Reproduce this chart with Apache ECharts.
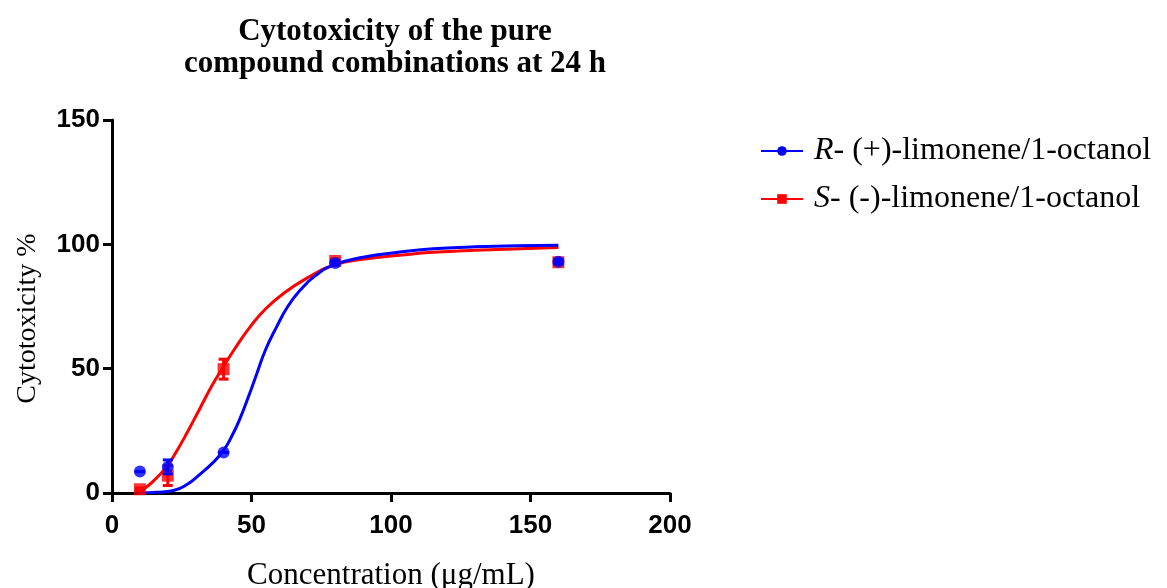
<!DOCTYPE html>
<html>
<head>
<meta charset="utf-8">
<script src="https://cdn.jsdelivr.net/npm/echarts@6/dist/echarts.min.js"></script>
<style>
  html, body { margin: 0; padding: 0; background: #fff; }
  #main { width: 1167px; height: 588px; }
</style>
</head>
<body>
<div id="main"></div>
<script>
// measured concentrations (ug/mL)
var conc = [10, 20, 40, 80, 160];

// R-(+)-limonene/1-octanol : mean and SD
var rMean = [8.6, 10.5, 16.3, 92.5, 93];
var rErr = [0, 2.8, 0, 0.8, 0.8];

// S-(-)-limonene/1-octanol : mean and SD
var sMean = [1.5, 7, 49.8, 93.3, 92.8];
var sErr = [0.5, 4, 4, 0.8, 0.8];

// fitted curves
var rCurveX = [10, 16, 22, 27, 31.5, 36, 39.9, 43, 45.9, 49, 51.9, 55, 59, 63, 67.4, 73, 79.3, 90, 103.2, 115, 130, 160];
var rCurveY = [0, 0.3, 1, 3.5, 7.5, 12, 17, 23, 30, 39, 48, 57.5, 66.8, 75, 81.5, 87.5, 91.6, 94.8, 96.9, 98.2, 99, 99.6];
var sCurveX = [10, 11.2, 15, 19.6, 23, 26.8, 31.5, 36, 39.9, 44, 49.5, 55, 61.4, 70, 79.3, 90, 103.2, 115, 130, 160];
var sCurveY = [0.8, 1.4, 5, 10.6, 16.5, 24, 34, 43.5, 50.7, 58, 66.8, 74, 80.2, 86.5, 91.6, 94, 95.6, 96.8, 97.6, 98.7];

var xTicks = [0, 50, 100, 150, 200];
var yTicks = [0, 50, 100, 150];

var nameR = 'R';
var nameS = 'S';

function zip(a, b) {
    return a.map(function (v, i) { return [v, b[i]]; });
}
function errData(m, e) {
    return conc.map(function (x, i) { return [x, m[i] - e[i], m[i] + e[i]]; });
}
function errRender(color) {
    return function (params, api) {
        var lo = api.coord([api.value(0), api.value(1)]);
        var hi = api.coord([api.value(0), api.value(2)]);
        var w = 5;
        var st = { stroke: color, lineWidth: 3 };
        return {
            type: 'group',
            children: [
                { type: 'line', shape: { x1: lo[0], y1: lo[1], x2: hi[0], y2: hi[1] }, style: st },
                { type: 'line', shape: { x1: lo[0] - w, y1: lo[1], x2: lo[0] + w, y2: lo[1] }, style: st },
                { type: 'line', shape: { x1: hi[0] - w, y1: hi[1], x2: hi[0] + w, y2: hi[1] }, style: st }
            ]
        };
    };
}

var blue = '#0000ff';
var red = '#ff0000';
var serif = '"Liberation Serif", "Times New Roman", serif';
var sans = '"Liberation Sans", Arial, sans-serif';

var myChart = echarts.init(document.getElementById('main'));
var option = {
    backgroundColor: '#fff',
    animation: false,
    title: {
        text: 'Cytotoxicity of the pure\ncompound combinations at 24 h',
        left: 390,
        top: 11,
        textAlign: 'center',
        textStyle: {
            fontFamily: serif,
            fontWeight: 'bold',
            fontSize: 31,
            lineHeight: 32,
            color: '#000'
        }
    },
    legend: {
        orient: 'vertical',
        left: 755,
        top: 130,
        itemWidth: 42,
        itemHeight: 12,
        itemGap: 16,
        data: [nameR, nameS],
        formatter: function (n) {
            return n === nameR ? '{i|R}- (+)-limonene/1-octanol' : '{i|S}- (-)-limonene/1-octanol';
        },
        textStyle: {
            fontFamily: serif,
            fontSize: 32,
            color: '#000',
            padding: [0, 0, 0, 6],
            rich: {
                i: { fontFamily: serif, fontSize: 32, fontStyle: 'italic', color: '#000' }
            }
        }
    },
    grid: {
        left: 112,
        top: 120,
        width: 558,
        bottom: 95,
        outerBoundsMode: 'none'
    },
    xAxis: {
        type: 'value',
        min: 0,
        max: 200,
        interval: 50,
        name: 'Concentration (\u03bcg/mL)',
        nameLocation: 'middle',
        nameGap: 67,
        nameTextStyle: { fontFamily: serif, fontSize: 31, color: '#000' },
        splitLine: { show: false },
        axisLine: { lineStyle: { color: '#000', width: 3 } },
        axisTick: { length: 9, lineStyle: { color: '#000', width: 3 } },
        axisLabel: {
            fontFamily: sans, fontWeight: 'bold', fontSize: 26, color: '#000', margin: 20,
            formatter: function (v) { return xTicks.indexOf(v) >= 0 ? String(v) : ''; }
        }
    },
    yAxis: {
        type: 'value',
        min: 0,
        max: 150,
        interval: 50,
        name: 'Cytotoxicity %',
        nameLocation: 'middle',
        nameGap: 70,
        nameTextStyle: { fontFamily: serif, fontSize: 28, color: '#000', padding: [0, 24, 0, 0] },
        splitLine: { show: false },
        axisLine: { show: true, lineStyle: { color: '#000', width: 3 } },
        axisTick: { show: true, length: 9, lineStyle: { color: '#000', width: 3 } },
        axisLabel: {
            fontFamily: sans, fontWeight: 'bold', fontSize: 26, color: '#000', margin: 12,
            formatter: function (v) { return yTicks.indexOf(v) >= 0 ? String(v) : ''; }
        }
    },
    series: [
        {
            name: nameS,
            type: 'line',
            data: zip(sCurveX, sCurveY),
            smooth: 0.5,
            showSymbol: false,
            symbol: 'rect',
            symbolSize: 12,
            color: red,
            lineStyle: { color: red, width: 3 },
            z: 2
        },
        {
            name: nameR,
            type: 'line',
            data: zip(rCurveX, rCurveY),
            smooth: 0.5,
            showSymbol: false,
            symbol: 'circle',
            symbolSize: 12,
            color: blue,
            lineStyle: { color: blue, width: 3 },
            z: 3
        },
        {
            name: nameS,
            type: 'custom',
            renderItem: errRender(red),
            data: errData(sMean, sErr),
            z: 4
        },
        {
            name: nameS,
            type: 'scatter',
            symbol: 'rect',
            symbolSize: 12,
            color: red,
            data: zip(conc, sMean),
            z: 5
        },
        {
            name: nameR,
            type: 'custom',
            renderItem: errRender(blue),
            data: errData(rMean, rErr),
            z: 6
        },
        {
            name: nameR,
            type: 'scatter',
            symbol: 'circle',
            symbolSize: 12,
            color: blue,
            data: zip(conc, rMean),
            z: 7
        }
    ]
};
window.onresize = myChart.resize;
myChart.setOption(option);
</script>
</body>
</html>
